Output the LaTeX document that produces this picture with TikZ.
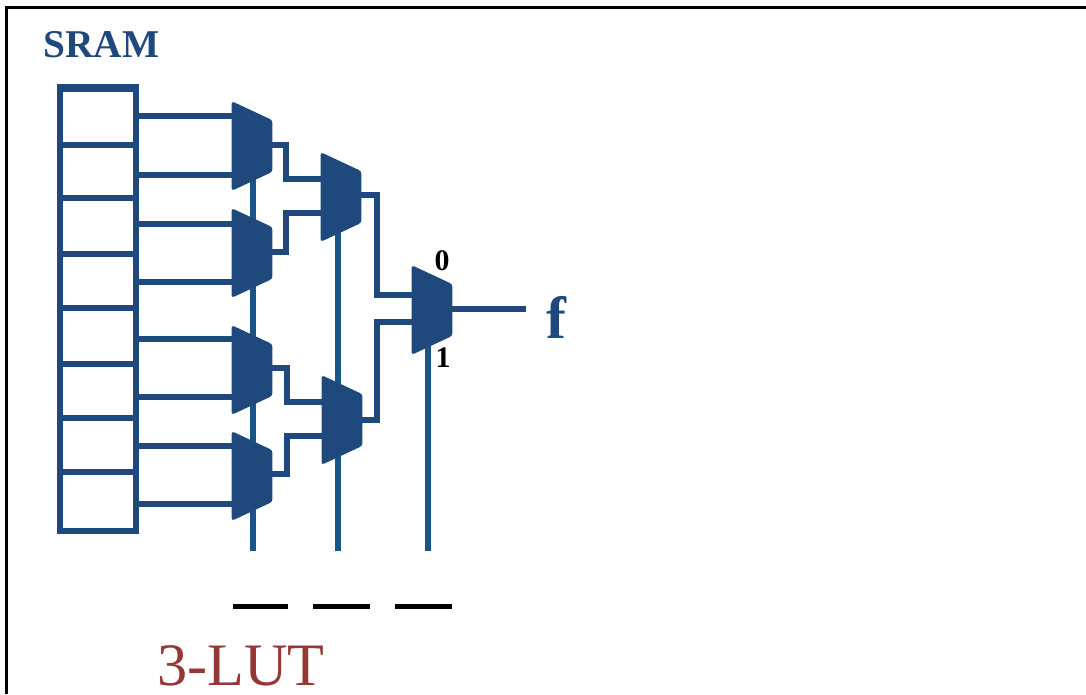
\documentclass[tikz,border=0pt]{standalone}
\usepackage{fontspec}
\setmainfont{Liberation Serif}
\usetikzlibrary{calc,backgrounds}
\definecolor{lutblue}{HTML}{1F497D}
\definecolor{sellblue}{HTML}{1B5586}
\definecolor{lutred}{HTML}{953735}
\tikzset{
  mux/.style={minimum width=0.8cm,minimum height=1.78cm,inner sep=0pt,
    append after command={
      \pgfextra{\fill[lutblue,rounded corners=1.5pt]
        (\tikzlastnode.north west)
        --($(\tikzlastnode.north east)+(0,19)$)
        --($(\tikzlastnode.south east)+(0,-19)$)
        --(\tikzlastnode.south west)--cycle;}}},
  wire/.style={lutblue,line width=3.3pt},
  sell/.style={sellblue,line width=3.2pt},
  dashline/.style={black,line width=2.8pt},
}

\begin{document}
\begin{tikzpicture}[x=0.02cm,y=-0.02cm]
\useasboundingbox (0,0) rectangle (1086,694);
\draw[black,line width=1.3pt] (6.5,694)--(6.5,7.5)--(1086,7.5);

\node[lutblue,font=\bfseries\fontsize{22.4}{24}\selectfont,anchor=base west,inner sep=0pt] (sram) at (43,57) {SRAM};

% the memory cells
\draw[lutblue,line width=3.5pt] (60,531) rectangle (136,88);
\draw[lutblue,line width=4.5pt] (57,88)--(139,88);
\foreach \y in {145,198,254,308,364,418,472}
  \draw[lutblue,line width=2.9pt] (60,\y)--(136,\y);

\node[mux] (m1) at (252,146) {};
\node[mux] (m2) at (252,253) {};
\node[mux] (m3) at (252,370) {};
\node[mux] (m4) at (252,476) {};
\node[mux] (m5) at (341,197) {};
\node[mux] (m6) at (342,420) {};
\node[mux] (m7) at (432,310) {};

\coordinate (s1) at (253,551);
\coordinate (s2) at (338,551);
\coordinate (s3) at (428,551);
\coordinate (fout) at (526,309);

\begin{scope}[on background layer]
\draw[sell] (253,146)--(s1);
\draw[sell] (338,197)--(s2);
\draw[sell] (428,310)--(s3);

% sram to first column
\draw[wire] (136,116)--(m1.west|-0,116);
\draw[wire] (136,175)--(m1.west|-0,175);
\draw[wire] (136,224)--(m2.west|-0,224);
\draw[wire] (136,282)--(m2.west|-0,282);
\draw[wire] (136,339)--(m3.west|-0,339);
\draw[wire] (136,397)--(m3.west|-0,397);
\draw[wire] (136,446)--(m4.west|-0,446);
\draw[wire] (136,504)--(m4.west|-0,504);

% first column to second column
\draw[wire] (m1.east|-0,145)-|(286,179)--(m5.west|-0,179);
\draw[wire] (m2.east|-0,252)-|(286,213)--(m5.west|-0,213);
\draw[wire] (m3.east|-0,368)-|(287,402)--(m6.west|-0,402);
\draw[wire] (m4.east|-0,474)-|(287,436)--(m6.west|-0,436);

% second column to last one
\draw[wire] (m5.east|-0,195)-|(377,295)--(m7.west|-0,295);
\draw[wire] (m6.east|-0,420)-|(377,322)--(m7.west|-0,322);
\draw[wire] (m7.east|-0,309)--(fout);
\end{scope}

\node[font=\bfseries\fontsize{17}{18}\selectfont,inner sep=0pt] (zero) at (442,261) {0};
\node[font=\bfseries\fontsize{17}{18}\selectfont,inner sep=0pt] (one) at (443,358) {1};
\node[lutblue,font=\bfseries\fontsize{34}{36}\selectfont,anchor=base west,inner sep=0pt] (f) at (546,338) {f};

\draw[dashline] (233,606.5)--(288,606.5);
\draw[dashline] (313,606.5)--(370,606.5);
\draw[dashline] (395,606.5)--(452,606.5);

\node[lutred,font=\fontsize{34.3}{36}\selectfont,anchor=base west,inner sep=0pt] (lut) at (157,685) {3-LUT};
\end{tikzpicture}
\end{document}
